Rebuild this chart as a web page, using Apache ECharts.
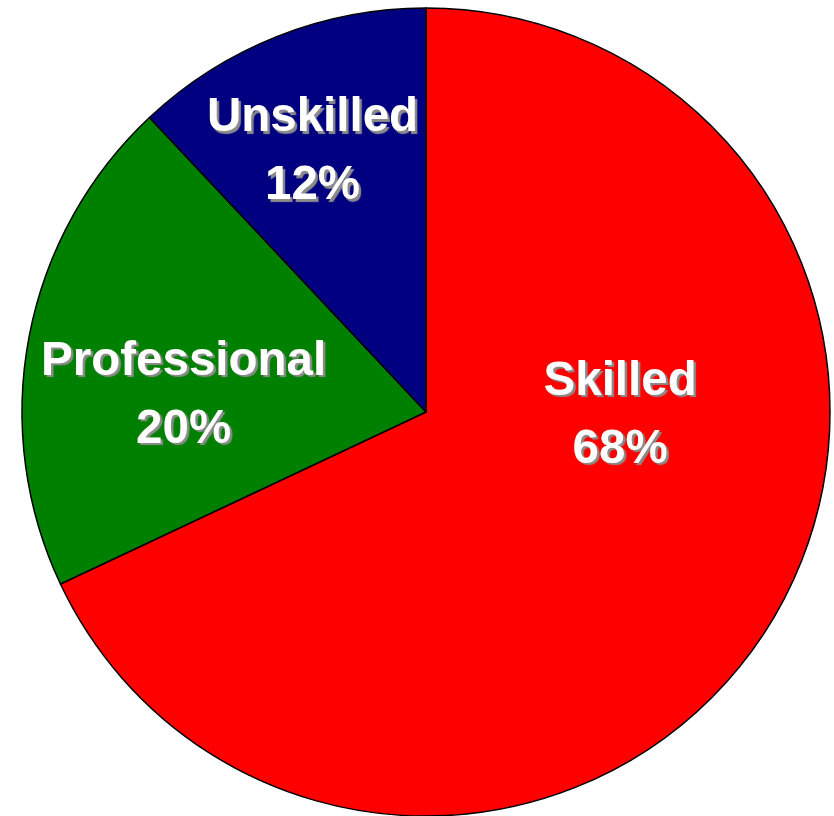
<!DOCTYPE html>
<html>
<head>
<meta charset="utf-8">
<script src="https://cdn.jsdelivr.net/npm/echarts@6/dist/echarts.min.js"></script>
<style>
html,body{margin:0;padding:0;background:#fff;}
#chart{width:834px;height:816px;}
</style>
</head>
<body>
<div id="chart"></div>
<script>
var categories = ['Skilled', 'Professional', 'Unskilled'];
var values = [68, 20, 12];
var colors = ['#FF0000', '#008000', '#000080'];
var labelOffsets = [[21, -106], [-41, 22], [-38, -69]];

var chart = echarts.init(document.getElementById('chart'));
var data = categories.map(function (c, i) {
  return {
    name: c,
    value: values[i],
    itemStyle: { color: colors[i] },
    label: { offset: labelOffsets[i] }
  };
});
chart.setOption({
  animation: false,
  series: [{
    type: 'pie',
    center: [426, 412],
    radius: [0, 404],
    startAngle: 90,
    clockwise: true,
    data: data,
    itemStyle: { borderColor: '#000', borderWidth: 1.5 },
    label: {
      show: true,
      position: 'inside',
      formatter: function (p) { return p.name + '\n' + Math.round(p.percent) + '%'; },
      color: '#fff',
      fontFamily: 'Liberation Sans, Arial, sans-serif',
      fontWeight: 'bold',
      fontSize: 47.5,
      lineHeight: 68,
      align: 'center',
      textShadowColor: '#8c8c8c',
      textShadowOffsetX: 2.5,
      textShadowOffsetY: 2.5,
      textShadowBlur: 1
    },
    labelLine: { show: false },
    emphasis: { disabled: true }
  }]
});
</script>
</body>
</html>
